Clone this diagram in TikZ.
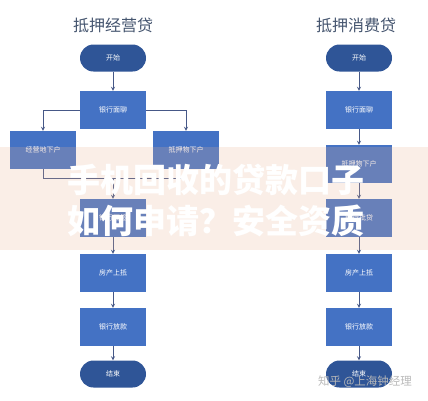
\documentclass[tikz,border=0pt]{standalone}
\usepackage{fontspec}
\usepackage{xcolor}
\usepackage{tikz}
\usetikzlibrary{shapes, arrows, positioning, calc}
\newfontfamily\cjk{Noto Sans CJK SC}
\definecolor{termblue}{RGB}{47,85,151}
\definecolor{boxblue}{RGB}{68,114,196}
\definecolor{linkgray}{RGB}{70,88,135}
\definecolor{titlegray}{RGB}{68,84,110}
\definecolor{bandpeach}{RGB}{232,178,146}

\begin{document}
\begin{tikzpicture}[
    x=1pt, y=-1pt,
    node distance=54pt,
    block/.style={rectangle, fill=boxblue, text=white, font=\cjk\fontsize{7}{8}\selectfont, minimum width=66pt, minimum height=38pt, inner sep=0pt},
    term/.style={block, fill=termblue, minimum height=27pt, rounded corners=13.5pt},
    title/.style={text=titlegray, font=\cjk\fontsize{16}{18}\selectfont},
    link/.style={draw=linkgray, line width=0.8pt},
    arrow/.style={link,->,>=stealth}
]
\useasboundingbox (0,0) rectangle (428,400);

% Left chart
\node (titleA) [title] at (113,25) {抵押经营贷};
\node (startA) [term] at (113,58) {开始};
\node (talkA) [block, below of=startA, yshift=2pt] {银行面聊};

% Branching
\node (siteA) [block, below of=talkA, xshift=-70pt, yshift=14pt] {经营地下户};
\node (propA) [block, below of=talkA, xshift=73pt, yshift=14pt] {抵押物下户};

\node (signA) [block, below of=talkA, yshift=-54pt] {银行面签};
\node (mortA) [block, below of=signA, yshift=-1pt] {房产上抵};
\node (loanA) [block, below of=mortA] {银行放款};
\node (endA) [term, below of=loanA, yshift=7pt] {结束};
\coordinate [above=20pt of signA] (mergeA);

% Right chart
\node (titleB) [title] at (356,25) {抵押消费贷};
\node (startB) [term] at (359,58) {开始};
\node (talkB) [block, below of=startB, yshift=2pt] {银行面聊};
\node (propB) [block, below of=talkB] {抵押物下户};
\node (signB) [block, below of=propB] {银行批贷};
\node (mortB) [block, below of=signB, yshift=-1pt] {房产上抵};
\node (loanB) [block, below of=mortB] {银行放款};
\node (endB) [term, below of=loanB, yshift=7pt] {结束};

% Arrows
\draw [arrow] (startA) -- (talkA);
\draw [arrow] (talkA) -| (siteA);
\draw [arrow] (talkA) -| (propA);
\draw [link] (siteA) |- (mergeA);
\draw [link] (propA) |- (mergeA);
\draw [arrow] (mergeA) -- (signA);
\draw [arrow] (signA) -- (mortA);
\draw [arrow] (mortA) -- (loanA);
\draw [arrow] (loanA) -- (endA);

\draw [arrow] (startB) -- (talkB);
\draw [arrow] (talkB) -- (propB);
\draw [arrow] (propB) -- (signB);
\draw [arrow] (signB) -- (mortB);
\draw [arrow] (mortB) -- (loanB);
\draw [arrow] (loanB) -- (endB);

% Banner
\fill [bandpeach, fill opacity=0.22] (0,147) rectangle (428,250);
\node (capA) [text=white, font=\cjk\bfseries\fontsize{33}{36}\selectfont] at (216,180) {手机回收的贷款口子};
\node (capB) [text=white, font=\cjk\bfseries\fontsize{33}{36}\selectfont] at (216,221) {如何申请？安全资质};

% Watermark
\node (mark) [text=gray!55, font=\cjk\fontsize{11.5}{13}\selectfont] at (365,382) {知乎 @上海钟经理};

\end{tikzpicture}
\end{document}
